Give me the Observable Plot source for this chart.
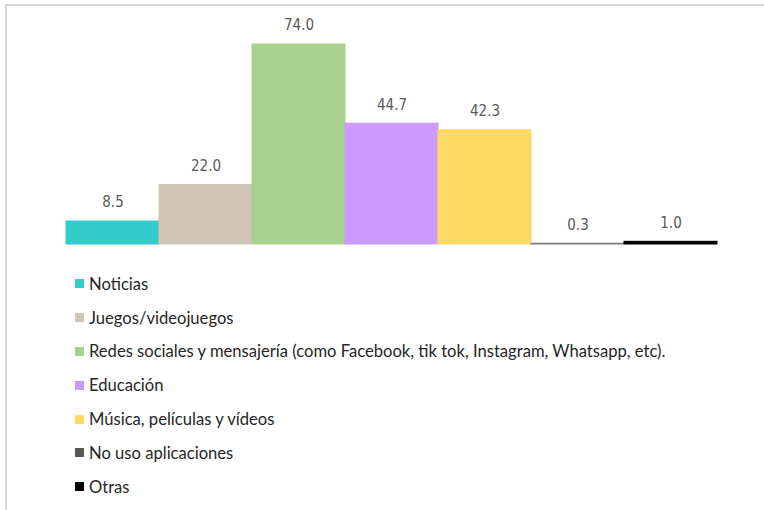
<!DOCTYPE html>
<html>
<head>
<meta charset="utf-8">
<script src="https://cdn.jsdelivr.net/npm/d3@7"></script>
<script src="https://cdn.jsdelivr.net/npm/@observablehq/plot@0.6"></script>
<style>
  html, body { margin: 0; padding: 0; background: #fff; }
  #frame { position: absolute; left: 5px; top: 4px; width: 759px; height: 506px;
           border-top: 2px solid #d9d9d9; border-left: 2px solid #d9d9d9; box-sizing: border-box; }
  #chart { position: absolute; left: 0; top: 0; }
  #legend { position: absolute; left: 75px; top: 267px; font-family: Lato, sans-serif;
            font-size: 16.6px; color: #262626; }
  .item { height: 33.8px; display: flex; align-items: center; white-space: nowrap; }
  .sw { width: 9px; height: 9px; margin-right: 5px; flex: none; }
</style>
</head>
<body>
<div id="frame"></div>
<div id="chart"></div>
<div id="legend"></div>
<script>
const categories = [
  "Noticias",
  "Juegos/videojuegos",
  "Redes sociales y mensajería (como Facebook, tik tok, Instagram, Whatsapp, etc).",
  "Educación",
  "Música, películas y vídeos",
  "No uso aplicaciones",
  "Otras"
];
const values = [8.5, 22.0, 74.0, 44.7, 42.3, 0.3, 1.0];
const colors = ["#33CCCC", "#D0C5B5", "#A9D18E", "#CC99FF", "#FFD966", "#808080", "#000000"];
const swatchColors = ["#33CCCC", "#D0C5B5", "#A9D18E", "#CC99FF", "#FFD966", "#595959", "#000000"];

const data = categories.map((c, i) => ({category: c, value: values[i]}));

const chart = Plot.plot({
  width: 764,
  height: 260,
  marginLeft: 63,
  marginRight: 45,
  marginTop: 44,
  marginBottom: 16,
  x: {domain: categories, padding: 0, axis: null},
  y: {domain: [0, 74], axis: null},
  color: {domain: categories, range: colors},
  marks: [
    Plot.barY(data, {x: "category", y: "value", fill: "category", stroke: "category", strokeWidth: 1}),
    Plot.text(data, {
      x: "category", y: "value", text: d => d.value.toFixed(1),
      dy: -19, lineAnchor: "middle", fill: "#595959", fontSize: 15,
      fontFamily: "'Liberation Sans Narrow', 'DejaVu Sans Condensed', sans-serif"
    })
  ]
});
chart.style.background = "transparent";
document.getElementById("chart").appendChild(chart);

const legend = d3.select("#legend");
categories.forEach((c, i) => {
  const item = legend.append("div").attr("class", "item");
  item.append("span").attr("class", "sw").style("background", swatchColors[i]);
  item.append("span").text(c);
});
</script>
</body>
</html>
